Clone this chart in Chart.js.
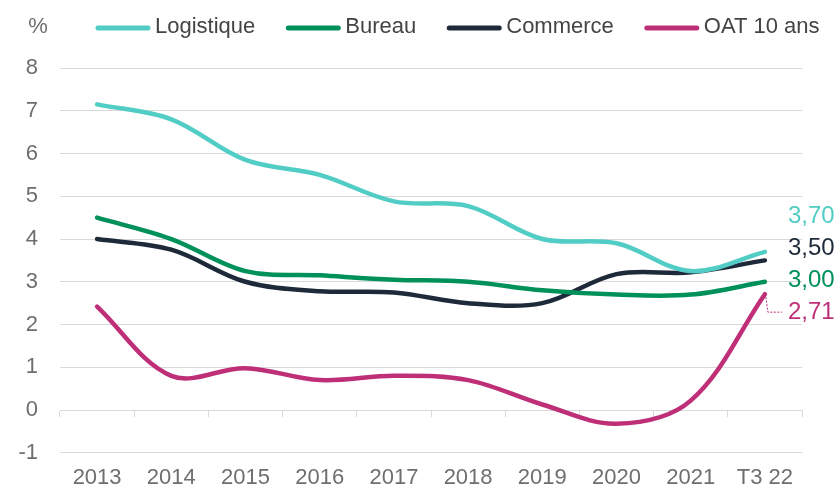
<!DOCTYPE html>
<html>
<head>
<meta charset="utf-8">
<script src="https://cdn.jsdelivr.net/npm/chart.js@4.4.0/dist/chart.umd.min.js"></script>
<style>
    html, body { margin: 0; padding: 0; background: #fff; }
    #wrap { width: 836px; height: 488px; }
</style>
</head>
<body>
<div id="wrap"><canvas id="chart" width="836" height="488"></canvas></div>
<script>
const categories = ['2013', '2014', '2015', '2016', '2017', '2018', '2019', '2020', '2021', 'T3 22']
const logistique = [7.15, 6.8, 5.85, 5.5, 4.88, 4.77, 4.0, 3.9, 3.25, 3.7]
const bureau = [4.5, 4.0, 3.25, 3.15, 3.05, 3.0, 2.8, 2.7, 2.7, 3.0]
const commerce = [4.0, 3.75, 3.0, 2.78, 2.75, 2.5, 2.5, 3.18, 3.22, 3.5]
const oat = [2.42, 0.8, 0.98, 0.7, 0.8, 0.7, 0.13, -0.32, 0.22, 2.71]
const yTicks = [-1, 0, 1, 2, 3, 4, 5, 6, 7, 8]

const FONT = '"Liberation Sans", Arial, sans-serif'
const GRID = '#d9d9d9'
const TICK = '#6e6e6e'

function line(label, data, color) {
    return {
        label,
        data,
        borderColor: color,
        backgroundColor: color,
        borderWidth: 4.5,
        borderCapStyle: 'round',
        borderJoinStyle: 'round',
        tension: 0.35,
        pointRadius: 0,
        fill: false
    }
}

// legend on top + "%" unit
const topLegend = {
    id: 'topLegend',
    afterDraw(chart) {
        const { ctx } = chart
        ctx.save()
        ctx.font = '22px ' + FONT
        ctx.textBaseline = 'alphabetic'
        ctx.fillStyle = TICK
        ctx.textAlign = 'center'
        ctx.fillText('%', 38, 33)
        ctx.textAlign = 'left'
        let x = 96
        chart.data.datasets.forEach(ds => {
            ctx.strokeStyle = ds.borderColor
            ctx.lineWidth = 5
            ctx.lineCap = 'round'
            ctx.beginPath()
            ctx.moveTo(x + 2, 28)
            ctx.lineTo(x + 52, 28)
            ctx.stroke()
            x += 59
            ctx.fillStyle = '#444'
            ctx.fillText(ds.label, x, 33)
            x += ctx.measureText(ds.label).width + 31
        })
        ctx.restore()
    }
}

// value labels at the end of each line
const endLabels = {
    id: 'endLabels',
    afterDatasetsDraw(chart, args, opts) {
        const { ctx } = chart
        ctx.save()
        ctx.font = '24px ' + FONT
        ctx.textAlign = 'left'
        ctx.textBaseline = 'middle'
        chart.data.datasets.forEach((ds, i) => {
            const meta = chart.getDatasetMeta(i)
            const pt = meta.data[meta.data.length - 1]
            const v = ds.data[ds.data.length - 1]
            const ty = pt.y + opts.dy[i]
            ctx.fillStyle = ds.borderColor
            ctx.fillText(v.toFixed(2).replace('.', ','), pt.x + 23, ty)
            if (opts.leader[i]) {
                ctx.strokeStyle = ds.borderColor
                ctx.lineWidth = 1
                ctx.setLineDash([2, 1.5])
                ctx.beginPath()
                ctx.moveTo(pt.x + 1, pt.y + 3)
                ctx.lineTo(pt.x + 3, ty)
                ctx.lineTo(pt.x + 17, ty)
                ctx.stroke()
                ctx.setLineDash([])
            }
        })
        ctx.restore()
    }
}

new Chart(document.getElementById('chart'), {
    type: 'line',
    data: {
        labels: categories,
        datasets: [
            line('Logistique', logistique, '#52cdc5'),
            line('Bureau', bureau, '#00905a'),
            line('Commerce', commerce, '#1e2a3a'),
            line('OAT 10 ans', oat, '#bf2f78')
        ]
    },
    options: {
        responsive: false,
        animation: false,
        layout: { padding: { top: 68, right: 34, left: 0, bottom: 0 } },
        scales: {
            x: {
                offset: true,
                grid: { display: false, drawTicks: false },
                border: { display: false },
                ticks: { color: TICK, font: { family: FONT, size: 22 }, padding: 12, maxRotation: 0 },
                afterFit(scale) { scale.height = 35 }
            },
            x2: {
                type: 'category',
                position: { y: 0 },
                offset: true,
                grid: { color: GRID, drawOnChartArea: false, tickLength: 6, offset: true },
                border: { display: true, color: GRID, width: 1 },
                ticks: { display: false }
            },
            y: {
                min: yTicks[0],
                max: yTicks[yTicks.length - 1],
                afterBuildTicks(scale) { scale.ticks = yTicks.map(v => ({ value: v })) },
                grid: { color: GRID, drawTicks: false },
                border: { display: false },
                ticks: { color: TICK, font: { family: FONT, size: 22 }, padding: 22 },
                afterFit(scale) { scale.width = 60 }
            }
        },
        plugins: {
            legend: { display: false },
            tooltip: { enabled: false },
            // label offsets: Logistique, Bureau, Commerce, OAT
            endLabels: { dy: [-35, -1, -12, 18], leader: [false, false, false, true] }
        }
    },
    plugins: [topLegend, endLabels]
})
</script>
</body>
</html>
